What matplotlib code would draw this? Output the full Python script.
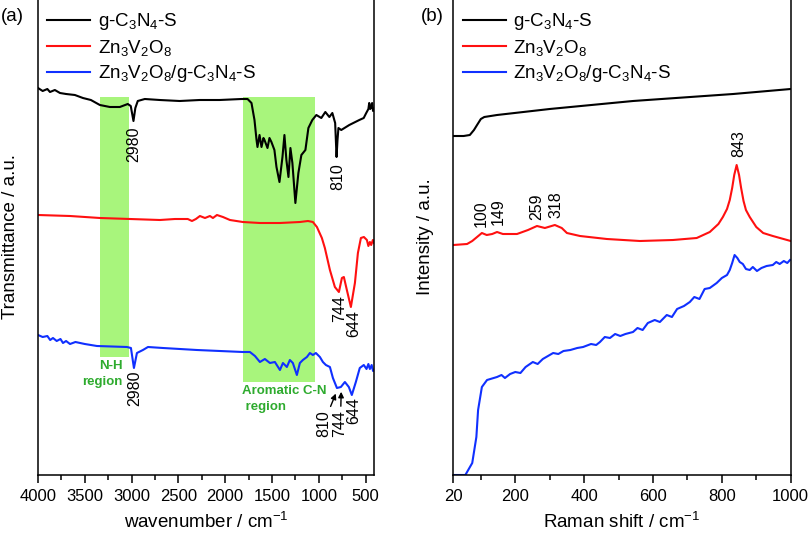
import numpy as np
import matplotlib
matplotlib.use('Agg')
import matplotlib.pyplot as plt
from matplotlib.patches import Rectangle
from matplotlib.ticker import MultipleLocator, FixedLocator

plt.rcParams['font.family'] = ['Liberation Sans', 'DejaVu Sans']
plt.rcParams['mathtext.fontset'] = 'custom'
plt.rcParams['mathtext.rm'] = 'Liberation Sans'
plt.rcParams['mathtext.default'] = 'regular'

labels = ['g-C$_3$N$_4$-S', 'Zn$_3$V$_2$O$_8$', 'Zn$_3$V$_2$O$_8$/g-C$_3$N$_4$-S']
colors = ['black', '#ff1010', '#1030ff']

# FTIR, offset transmittance (a.u.)
ir_gcn_x = [4000, 3950, 3900, 3872, 3820, 3765, 3700, 3606, 3520, 3435, 3339, 3232, 3126,
            3041, 3009, 2980, 2960, 2934, 2859, 2699, 2486, 2273, 2060, 1825, 1761, 1719,
            1687, 1665, 1655, 1633, 1612, 1591, 1580, 1548, 1527, 1506, 1474, 1452, 1420,
            1388, 1367, 1346, 1324, 1303, 1282, 1250, 1218, 1186, 1143, 1111, 1069, 1026,
            973, 930, 887, 855, 825, 810, 800, 790, 760, 674, 567, 520, 493, 470, 461, 450,
            440, 430, 420, 410]
ir_gcn_y = [387, 384, 386, 383, 385, 382, 381, 380, 377, 375, 370, 368, 368,
            371, 369, 354, 367, 374, 376, 375, 374, 375, 375, 376, 376, 372,
            355, 335, 328, 340, 328, 337, 335, 327, 337, 333, 325, 308, 293,
            318, 340, 315, 298, 327, 312, 272, 302, 320, 325, 347, 355, 360,
            357, 363, 358, 362, 352, 318, 335, 347, 345, 350, 355, 357, 362, 366, 372, 366,
            368, 372, 364, 366]

ir_zvo_x = [4000, 3658, 3338, 3017, 2697, 2537, 2400, 2355, 2313, 2270, 2216, 2163, 2131,
            2088, 2024, 1949, 1811, 1629, 1415, 1202, 1116, 1063, 1020, 967, 935, 881,
            828, 785, 753, 732, 700, 657, 614, 582, 550, 518, 486, 470, 454, 440, 422, 410]
ir_zvo_y = [260, 259, 257, 256, 255, 256, 256, 254, 256, 259, 257, 259, 257,
            260, 258, 255, 253, 252, 252, 253, 254, 253, 248, 237, 227, 205,
            188, 183, 197, 198, 185, 168, 192, 222, 237, 238, 235, 229, 233, 230, 235, 232]

ir_comp_x = [4000, 3950, 3900, 3870, 3840, 3800, 3760, 3733, 3700, 3658, 3600, 3500, 3370,
             3050, 3007, 2975, 2943, 2879, 2825, 2665, 2302, 1811, 1736, 1682, 1629, 1576,
             1522, 1469, 1415, 1383, 1341, 1309, 1277, 1234, 1202, 1170, 1127, 1095, 1063,
             1031, 988, 956, 924, 881, 849, 806, 764, 721, 679, 647, 604, 562, 519, 490,
             470, 454, 435, 420, 410]
ir_comp_y = [140, 138, 139, 135, 137, 134, 136, 132, 134, 131, 133, 131, 129,
             128, 127, 107, 122, 125, 128, 127, 125, 123, 123, 119, 113, 116,
             112, 113, 105, 112, 108, 115, 112, 100, 112, 115, 118, 122, 120,
             122, 118, 113, 110, 108, 97, 87, 88, 93, 88, 80, 93, 107, 110, 106,
             111, 106, 110, 104, 105]

# Raman, offset intensity (a.u.)
ra_gcn_x = [20, 50, 68, 80, 89, 100, 110, 147, 300, 542, 833, 1000]
ra_gcn_y = [339, 339, 340, 345, 350, 356, 358, 360, 366, 374, 381, 386]

ra_zvo_x = [20, 60, 75, 89, 103, 117, 133, 147, 164, 205, 237, 263, 286, 315, 335, 350,
            388, 466, 562, 658, 727, 765, 790, 803, 815, 823, 830, 836, 843, 850, 856, 863,
            870, 881, 900, 920, 948, 1000]
ra_zvo_y = [230, 231, 234, 238, 242, 240, 241, 243, 241, 241, 245, 249, 247, 250, 247, 242,
            239, 236, 234, 235, 237, 243, 251, 258, 266, 275, 287, 300, 310, 300, 287, 274,
            265, 258, 248, 242, 239, 234]

ra_comp_x = [20, 55, 75, 87, 92, 103, 118, 147, 160, 170, 185, 200, 215, 230, 251, 265,
             280, 295, 310, 325, 340, 360, 380, 397, 420, 435, 446, 460, 475, 490, 505,
             520, 542, 555, 570, 585, 605, 620, 640, 655, 670, 690, 707, 720, 735, 750,
             765, 785, 800, 815, 823, 830, 837, 845, 852, 861, 870, 881, 890, 902, 915,
             930, 948, 958, 968, 980, 990, 998]
ra_comp_y = [0, 0, 12, 38, 65, 88, 95, 98, 100, 97, 101, 103, 102, 108, 113, 111,
             116, 119, 122, 121, 124, 125, 127, 128, 131, 130, 133, 138, 137, 141, 139,
             141, 143, 147, 145, 152, 155, 153, 160, 158, 166, 169, 173, 178, 176, 186,
             187, 192, 197, 200, 205, 212, 220, 217, 213, 211, 206, 205, 208, 204, 207,
             209, 210, 213, 211, 214, 212, 215]

nh_region = (3340, 3030)
cn_region = (1810, 1045)

fig = plt.figure(figsize=(8.12, 5.40), dpi=100)
ax1 = fig.add_axes([38 / 812, 65 / 540, 336 / 812, 477 / 540])
ax2 = fig.add_axes([453.3 / 812, 65 / 540, 337.4 / 812, 477 / 540])

green = '#a8f57c'
ax1.add_patch(Rectangle((nh_region[1], 118), nh_region[0] - nh_region[1], 260,
                        color=green, lw=0, zorder=0))
ax1.add_patch(Rectangle((cn_region[1], 93), cn_region[0] - cn_region[1], 285,
                        color=green, lw=0, zorder=0))

for x, y, c, lab in zip([ir_gcn_x, ir_zvo_x, ir_comp_x], [ir_gcn_y, ir_zvo_y, ir_comp_y],
                        colors, labels):
    ax1.plot(x, y, color=c, lw=1.5, label=lab)
for x, y, c, lab in zip([ra_gcn_x, ra_zvo_x, ra_comp_x], [ra_gcn_y, ra_zvo_y, ra_comp_y],
                        colors, labels):
    ax2.plot(x, y, color=c, lw=1.5, label=lab)

ax1.set_xlim(4000, 410)
ax2.set_xlim(20, 1000)
for ax in (ax1, ax2):
    ax.set_ylim(0, 477)
    ax.set_yticks([])
    for s in ax.spines.values():
        s.set_linewidth(1.1)
    ax.tick_params(axis='x', which='major', length=6, width=1.1, labelsize=12, pad=4)
    ax.tick_params(axis='x', which='minor', length=3.5, width=1.1)
    ax.legend(loc='upper left', frameon=False, fontsize=13.5, handlelength=2.3,
              handletextpad=0.4, labelspacing=0.3, borderaxespad=0.1,
              bbox_to_anchor=(0.0, 0.992))

ax1.xaxis.set_major_locator(MultipleLocator(500))
ax1.xaxis.set_minor_locator(MultipleLocator(250))
ax2.xaxis.set_major_locator(FixedLocator([20, 200, 400, 600, 800, 1000]))
ax2.xaxis.set_minor_locator(FixedLocator([100, 300, 500, 700, 900]))

ax1.set_xlabel('wavenumber / cm$^{-1}$', fontsize=13.5, labelpad=6)
ax2.set_xlabel('Raman shift / cm$^{-1}$', fontsize=13.5, labelpad=6)
ax1.set_ylabel('Transmittance / a.u.', fontsize=13.5, labelpad=14)
ax2.set_ylabel('Intensity / a.u.', fontsize=13.5, labelpad=14)

# FTIR peak labels
fs = 11.5
ax1.text(2975, 348, '2980', rotation=90, ha='center', va='top', fontsize=fs)
ax1.text(801, 312, '810', rotation=90, ha='center', va='top', fontsize=fs)
ax1.text(775, 180, '744', rotation=90, ha='center', va='top', fontsize=fs)
ax1.text(630, 165, '644', rotation=90, ha='center', va='top', fontsize=fs)
ax1.text(2970, 105, '2980', rotation=90, ha='center', va='top', fontsize=fs)
ax1.text(951, 65, '810', rotation=90, ha='center', va='top', fontsize=fs)
ax1.text(780, 65, '744', rotation=90, ha='center', va='top', fontsize=fs)
ax1.text(630, 78, '644', rotation=90, ha='center', va='top', fontsize=fs)
ax1.annotate('', xy=(807, 84), xytext=(885, 66),
             arrowprops=dict(arrowstyle='-|>', color='black', lw=1, mutation_scale=8))
ax1.annotate('', xy=(760, 86), xytext=(765, 66),
             arrowprops=dict(arrowstyle='-|>', color='black', lw=1, mutation_scale=8))

ax1.text(3092, 115, 'N-H\nregion', ha='right', va='top', color='#2eab2e',
         fontsize=9.5, fontweight='bold', multialignment='right', linespacing=1.4)
ax1.text(1821, 90, 'Aromatic C-N\n region', ha='left', va='top', color='#2eab2e',
         fontsize=9.5, fontweight='bold', linespacing=1.4)

# Raman peak labels
for xx, yy, t in [(100, 248, '100'), (150, 250, '149'), (263, 255, '259'),
                  (318, 257, '318'), (850, 318, '843')]:
    ax2.text(xx, yy, t, rotation=90, ha='center', va='bottom', fontsize=fs)

fig.text(1 / 812, 1 - 8 / 540, '(a)', ha='left', va='top', fontsize=13.5)
fig.text(421 / 812, 1 - 8 / 540, '(b)', ha='left', va='top', fontsize=13.5)

fig.savefig('out.png', dpi=100)
